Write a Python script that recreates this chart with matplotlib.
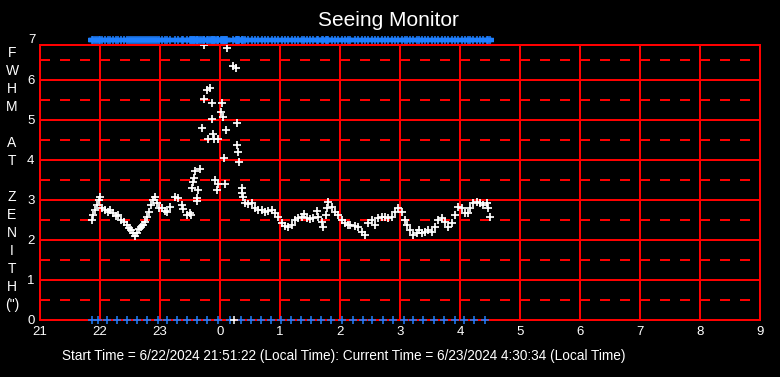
import matplotlib
matplotlib.use("Agg")
import matplotlib.pyplot as plt

plt.rcParams['font.family'] = ['Liberation Sans', 'DejaVu Sans']

# ---- data (hours; times after midnight are expressed as 24+) ----
seg1_t = [21.86, 21.88, 21.92, 21.95, 21.98, 22.00, 22.03, 22.08, 22.13, 22.17, 22.22, 22.27,
          22.30, 22.35, 22.40, 22.45, 22.48, 22.52, 22.55, 22.58, 22.62, 22.65, 22.68, 22.72,
          22.75, 22.78, 22.82, 22.85, 22.88, 22.92, 22.95, 22.98, 23.03, 23.08, 23.12, 23.17,
          23.25, 23.30, 23.37, 23.38, 23.45, 23.50]
seg1_v = [2.50, 2.63, 2.75, 2.88, 3.00, 3.08, 2.80, 2.75, 2.70, 2.75, 2.68, 2.60,
          2.63, 2.50, 2.45, 2.38, 2.30, 2.25, 2.18, 2.10, 2.18, 2.28, 2.33, 2.38,
          2.45, 2.58, 2.70, 2.88, 3.00, 3.08, 2.93, 2.80, 2.80, 2.73, 2.70, 2.83,
          3.08, 3.05, 2.88, 2.78, 2.63, 2.68]

burst_t = [23.73, 24.12, 24.22, 24.27, 23.78, 23.83, 23.73, 23.87, 24.03, 24.02, 24.05, 23.87,
           24.28, 23.70, 23.88, 24.10, 23.80, 23.90, 23.97, 24.28, 24.30, 24.07, 24.32, 23.58,
           23.67, 23.57, 23.55, 23.92, 23.97, 24.08, 23.53, 23.63, 23.95, 24.37, 24.37, 24.38,
           23.62, 23.62, 23.52]
burst_v = [6.88, 6.80, 6.35, 6.30, 5.75, 5.80, 5.53, 5.43, 5.43, 5.20, 5.08, 5.03,
           4.93, 4.80, 4.65, 4.75, 4.53, 4.53, 4.53, 4.38, 4.20, 4.05, 3.95, 3.73,
           3.78, 3.55, 3.45, 3.50, 3.40, 3.40, 3.30, 3.25, 3.25, 3.30, 3.18, 3.08,
           3.05, 2.98, 2.63]

seg2_t = [24.42, 24.47, 24.53, 24.58, 24.63, 24.70, 24.75, 24.80, 24.87, 24.92, 24.97, 25.03,
          25.08, 25.13, 25.20, 25.25, 25.30, 25.37, 25.40, 25.45, 25.50, 25.55, 25.62, 25.63,
          25.70, 25.72, 25.77, 25.78, 25.80, 25.87, 25.92, 25.97, 26.03, 26.08, 26.13, 26.17,
          26.25, 26.30, 26.37, 26.42, 26.47, 26.53, 26.58, 26.63, 26.70, 26.75, 26.80, 26.87,
          26.92, 26.97, 27.03, 27.08, 27.12, 27.17, 27.22, 27.28, 27.32, 27.37, 27.42, 27.47,
          27.53, 27.58, 27.63, 27.70, 27.75, 27.80, 27.87, 27.92, 27.97, 28.03, 28.08, 28.13,
          28.17, 28.22, 28.28, 28.33, 28.38, 28.45, 28.47, 28.50]
seg2_v = [2.93, 2.90, 2.93, 2.80, 2.75, 2.75, 2.70, 2.73, 2.75, 2.68, 2.58, 2.43,
          2.35, 2.33, 2.38, 2.50, 2.55, 2.58, 2.65, 2.55, 2.53, 2.55, 2.73, 2.58,
          2.45, 2.33, 2.63, 2.80, 2.95, 2.83, 2.70, 2.63, 2.50, 2.43, 2.38, 2.38,
          2.35, 2.33, 2.20, 2.13, 2.43, 2.50, 2.38, 2.55, 2.58, 2.58, 2.55, 2.58,
          2.70, 2.80, 2.70, 2.50, 2.38, 2.25, 2.13, 2.18, 2.25, 2.18, 2.20, 2.25,
          2.20, 2.33, 2.50, 2.55, 2.45, 2.33, 2.43, 2.63, 2.83, 2.80, 2.68, 2.68,
          2.80, 2.93, 2.95, 2.93, 2.88, 2.93, 2.80, 2.58]

zero_white_t = [24.23]
zero_white_v = [0.0]

bottom_blue_t = [21.86, 21.96, 22.12, 22.29, 22.45, 22.62, 22.79, 22.96, 23.12, 23.29, 23.45,
                 23.62, 23.79, 23.96, 24.17, 24.35, 24.51, 24.68, 24.85, 25.01, 25.18, 25.35,
                 25.51, 25.68, 25.85, 26.04, 26.21, 26.38, 26.54, 26.71, 26.89, 27.06, 27.22,
                 27.39, 27.56, 27.74, 27.91, 28.07, 28.24, 28.41]
bottom_blue_v = [0.0] * len(bottom_blue_t)

top_level = 7.0

xticks = [21, 22, 23, 24, 25, 26, 27, 28, 29, 30, 31, 32, 33]
xticklabels = ['21', '22', '23', '0', '1', '2', '3', '4', '5', '6', '7', '8', '9']
yticks = [0, 1, 2, 3, 4, 5, 6]
ylabel_lines = ['F', 'W', 'H', 'M', '', 'A', 'T', '', 'Z', 'E', 'N', 'I', 'T', 'H', '(")']
title = 'Seeing Monitor'
footer = 'Start Time = 6/22/2024 21:51:22 (Local Time): Current Time = 6/23/2024 4:30:34 (Local Time)'

RED = '#ff0000'
BLUE = '#1f7fff'
W, H = 780, 377

fig = plt.figure(figsize=(W / 100, H / 100), dpi=100, facecolor='black')
ax = fig.add_axes([40 / W, (H - 320) / H, 720 / W, 275 / H])
ax.set_facecolor('black')
ax.set_xlim(21, 33)
ax.set_ylim(0, 6.875)

# grid
for xt in xticks:
    ax.axvline(xt, color=RED, lw=1.44, zorder=1)
for yt in yticks[1:]:
    ax.axhline(yt, color=RED, lw=1.44, zorder=1)
for yt in [0.5, 1.5, 2.5, 3.5, 4.5, 5.5, 6.5]:
    ax.axhline(yt, color=RED, lw=1.44, ls=(0, (5, 5)), zorder=1)
for s in ax.spines.values():
    s.set_color(RED)
    s.set_linewidth(1.44)

# data
all_t = seg1_t + burst_t + seg2_t
all_v = seg1_v + burst_v + seg2_v
ax.plot(all_t, all_v, ls='none', marker='+', ms=5.5, mew=1.25, color='white', zorder=3)
ax.plot(zero_white_t, zero_white_v, ls='none', marker='+', ms=5.5, mew=1.1, color='white',
        zorder=4, clip_on=False)
ax.plot(bottom_blue_t, bottom_blue_v, ls='none', marker='+', ms=5.5, mew=1.1, color=BLUE,
        zorder=3, clip_on=False)
top_t = sorted(all_t)
ax.plot(top_t, [top_level] * len(top_t), ls='none', marker='_', ms=6, mew=3.2, color=BLUE,
        zorder=3, clip_on=False)
ax.plot(top_t, [top_level] * len(top_t), ls='none', marker='+', ms=5.5, mew=1.1, color=BLUE,
        zorder=3, clip_on=False)

# ticks
ax.set_xticks(xticks)
ax.set_xticklabels(xticklabels)
ax.set_yticks(yticks)
ax.tick_params(length=0, colors='white', labelsize=9.5)
ax.tick_params(axis='x', pad=4)
ax.tick_params(axis='y', pad=4)
ax.text(-0.006, top_level, '7', transform=ax.get_yaxis_transform(), ha='right', va='center',
        color='white', fontsize=9.5, clip_on=False)

# title
fig.text(388 / W, 1 - 21 / H, title, color='white', fontsize=15, ha='center', va='center')

# stacked y label
y0 = 53
for i, ch in enumerate(ylabel_lines):
    if ch:
        fig.text(12 / W, 1 - (y0 + 18 * i) / H, ch, color='white', fontsize=10,
                 ha='center', va='center')

fig.text(62 / W, 1 - 356 / H, footer, color='white', fontsize=9.8, ha='left', va='center')

fig.savefig('out.png', dpi=100, facecolor='black')
